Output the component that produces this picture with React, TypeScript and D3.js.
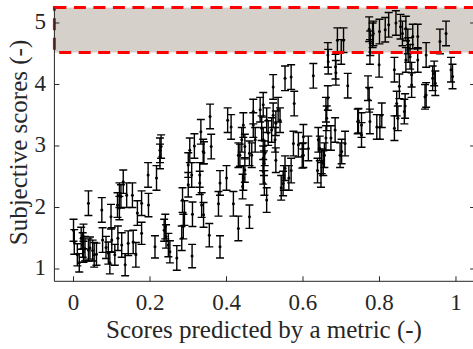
import React from 'react';
import * as d3 from 'd3';

// [predicted, subjective, half error]
const lowCluster: [number, number, number][] = [
  [0.0, 1.63, 0.18], [0.002, 1.44, 0.2], [0.01, 1.23, 0.18], [0.015, 1.1, 0.15], [0.02, 1.5, 0.18],
  [0.024, 1.39, 0.2], [0.026, 1.28, 0.17], [0.026, 1.53, 0.2], [0.03, 1.33, 0.2], [0.039, 2.07, 0.2],
  [0.039, 1.31, 0.18], [0.043, 1.34, 0.18], [0.05, 1.3, 0.17], [0.054, 1.23, 0.2], [0.06, 1.24, 0.18],
  [0.074, 1.96, 0.2], [0.076, 1.47, 0.2], [0.085, 1.35, 0.18], [0.091, 1.26, 0.18], [0.095, 1.1, 0.18],
  [0.098, 1.85, 0.2], [0.1, 1.47, 0.2], [0.108, 1.23, 0.17], [0.115, 2.04, 0.2], [0.116, 1.5, 0.2],
  [0.12, 2.2, 0.2], [0.12, 1.99, 0.19], [0.124, 2.18, 0.19], [0.126, 1.39, 0.2], [0.13, 2.42, 0.19],
  [0.135, 1.07, 0.18], [0.139, 2.2, 0.2], [0.143, 1.42, 0.2], [0.154, 2.2, 0.2], [0.156, 1.44, 0.19],
  [0.163, 1.23, 0.2], [0.167, 1.91, 0.2], [0.178, 1.58, 0.18], [0.178, 2.07, 0.2], [0.196, 2.04, 0.19],
  [0.195, 2.53, 0.2], [0.213, 1.36, 0.18], [0.217, 2.48, 0.2],
];

const lowerBand: [number, number, number][] = [
  [0.237, 1.63, 0.18], [0.24, 1.69, 0.2], [0.242, 1.53, 0.19], [0.248, 1.39, 0.19], [0.252, 1.28, 0.18],
  [0.27, 1.18, 0.2], [0.283, 1.5, 0.2], [0.285, 2.12, 0.2], [0.287, 1.69, 0.2], [0.29, 1.91, 0.2],
  [0.3, 2.37, 0.2], [0.311, 1.89, 0.2], [0.31, 1.21, 0.19], [0.33, 2.4, 0.19], [0.335, 2.04, 0.2],
  [0.34, 1.88, 0.2], [0.355, 1.55, 0.19], [0.379, 2.06, 0.2], [0.383, 1.36, 0.18], [0.383, 2.4, 0.2],
  [0.4, 2.48, 0.2], [0.418, 2.06, 0.2], [0.431, 1.66, 0.2], [0.442, 2.34, 0.2], [0.46, 1.85, 0.19],
  [0.444, 2.48, 0.2], [0.496, 2.58, 0.2], [0.498, 2.72, 0.2], [0.505, 2.12, 0.2], [0.499, 2.4, 0.2],
  [0.529, 2.77, 0.2], [0.543, 2.32, 0.2], [0.548, 2.39, 0.2], [0.553, 2.64, 0.2], [0.55, 2.48, 0.2],
  [0.563, 2.48, 0.2], [0.569, 2.6, 0.2], [0.575, 3.04, 0.2], [0.588, 3.02, 0.2], [0.598, 2.84, 0.2],
  [0.601, 3.15, 0.2], [0.601, 2.85, 0.2], [0.614, 2.96, 0.2], [0.638, 2.6, 0.2], [0.64, 3.1, 0.2],
  [0.644, 2.96, 0.2], [0.647, 2.53, 0.2], [0.649, 2.75, 0.2], [0.653, 2.72, 0.2], [0.656, 2.85, 0.2],
  [0.66, 3.13, 0.2], [0.673, 3.13, 0.2], [0.684, 3.26, 0.2], [0.697, 2.85, 0.2], [0.701, 2.91, 0.2],
  [0.71, 3.04, 0.2], [0.745, 3.41, 0.2], [0.753, 3.34, 0.2], [0.753, 3.18, 0.2], [0.743, 3.4, 0.2],
];

const upperBand: [number, number, number][] = [
  [0.226, 2.83, 0.2], [0.226, 2.93, 0.2], [0.229, 2.99, 0.19], [0.3, 2.69, 0.2], [0.304, 2.93, 0.2],
  [0.309, 2.53, 0.2], [0.316, 3.0, 0.2], [0.33, 2.53, 0.2], [0.333, 3.23, 0.2], [0.339, 2.91, 0.2],
  [0.341, 2.89, 0.18], [0.357, 3.48, 0.2], [0.36, 2.99, 0.2], [0.403, 3.42, 0.2], [0.412, 3.31, 0.2],
  [0.431, 2.85, 0.2], [0.435, 2.85, 0.18], [0.44, 3.1, 0.2], [0.444, 3.34, 0.2], [0.448, 2.61, 0.2],
  [0.448, 2.99, 0.2], [0.466, 2.85, 0.2], [0.46, 2.88, 0.2], [0.47, 3.56, 0.2], [0.47, 3.34, 0.2],
  [0.475, 3.1, 0.2], [0.488, 3.59, 0.2], [0.492, 3.29, 0.2], [0.496, 3.67, 0.2], [0.496, 3.1, 0.2],
  [0.496, 2.8, 0.2], [0.5, 2.88, 0.2], [0.505, 3.42, 0.2], [0.509, 3.21, 0.2], [0.518, 3.26, 0.2],
  [0.522, 3.5, 0.2], [0.527, 3.1, 0.2], [0.529, 3.37, 0.2], [0.535, 3.59, 0.2], [0.54, 3.42, 0.2],
  [0.522, 3.96, 0.2], [0.553, 4.1, 0.2], [0.569, 4.12, 0.2], [0.577, 3.69, 0.2], [0.627, 4.14, 0.2],
];

const topCluster: [number, number, number][] = [
  [0.66, 3.59, 0.2], [0.662, 3.45, 0.2], [0.665, 3.78, 0.2], [0.665, 4.48, 0.2], [0.666, 4.37, 0.2],
  [0.685, 4.29, 0.2], [0.686, 4.19, 0.2], [0.69, 4.72, 0.2], [0.7, 4.53, 0.2], [0.706, 4.72, 0.2],
  [0.717, 3.98, 0.2], [0.77, 3.94, 0.2], [0.773, 3.75, 0.2], [0.775, 3.4, 0.2], [0.773, 4.9, 0.2],
  [0.776, 4.67, 0.2], [0.775, 4.53, 0.2], [0.782, 4.8, 0.2], [0.784, 4.83, 0.2], [0.793, 3.31, 0.2],
  [0.801, 3.31, 0.2], [0.799, 4.32, 0.2], [0.8, 4.86, 0.2], [0.806, 3.5, 0.2], [0.815, 4.89, 0.2],
  [0.824, 4.97, 0.2], [0.839, 3.29, 0.2], [0.839, 4.24, 0.2], [0.843, 5.0, 0.2], [0.848, 3.45, 0.2],
  [0.852, 3.97, 0.2], [0.845, 3.69, 0.2], [0.855, 4.94, 0.2], [0.86, 4.83, 0.2], [0.865, 3.56, 0.2],
  [0.867, 3.65, 0.2], [0.869, 4.91, 0.2], [0.869, 4.4, 0.2], [0.874, 4.7, 0.2], [0.875, 4.56, 0.2],
  [0.88, 4.45, 0.2], [0.884, 4.16, 0.2], [0.884, 3.99, 0.2], [0.887, 4.78, 0.2], [0.9, 4.78, 0.2],
  [0.9, 4.4, 0.2], [0.919, 3.8, 0.2], [0.922, 4.48, 0.2], [0.939, 4.1, 0.2], [0.943, 4.18, 0.2],
  [0.946, 4.02, 0.2], [0.958, 4.7, 0.2], [0.974, 4.83, 0.2], [0.987, 4.24, 0.2], [0.991, 4.13, 0.2],
  [0.922, 3.83, 0.2],
];

const xTicks = [0, 0.2, 0.4, 0.6, 0.8, 1];
const yTicks = [1, 2, 3, 4, 5];
const highlight = [4.52, 5.25];

const W = 473;
const H = 349;
const font = '"Liberation Serif", "Times New Roman", serif';
const axisColor = '#262626';

export default function App() {
  const x = d3.scaleLinear().domain([-0.05, 1.05]).range([54.4, 475.1]);
  const y = d3.scaleLinear().domain([0.8, 5.25]).range([281.3, 7.6]);
  const points = [...lowCluster, ...lowerBand, ...upperBand, ...topCluster];
  const cap = 4;

  return (
    <svg width={W} height={H} style={{ position: 'absolute', left: 0, top: 0, background: '#fff' }}>
      {/* highlighted region */}
      <rect
        x={x(-0.05)}
        y={y(highlight[1])}
        width={x(1.05) - x(-0.05) + 4}
        height={y(highlight[0]) - y(highlight[1])}
        fill="#d5d0ca"
      />

      {/* error bars */}
      <g stroke="#000" strokeWidth={1.4} fill="none">
        {points.map(([px, py, e], i) => {
          const cx = x(px);
          const y0 = y(py - e);
          const y1 = y(py + e);
          return (
            <path
              key={i}
              d={`M${cx},${y0}V${y1}M${cx - cap},${y0}H${cx + cap}M${cx - cap},${y1}H${cx + cap}`}
            />
          );
        })}
      </g>
      <g fill="#000">
        {points.map(([px, py], i) => (
          <circle key={i} cx={x(px)} cy={y(py)} r={1.5} />
        ))}
      </g>

      <rect
        x={x(-0.05)}
        y={y(highlight[1])}
        width={x(1.05) - x(-0.05) + 4}
        height={y(highlight[0]) - y(highlight[1])}
        fill="none"
        stroke="#ff0000"
        strokeWidth={3}
        strokeDasharray="12,7.5"
      />

      {/* axes */}
      <g stroke={axisColor} strokeWidth={1} fill="none">
        <line x1={x(-0.05)} x2={x(-0.05)} y1={y(0.8)} y2={y(5.25)} />
        <line x1={x(-0.05)} x2={x(1.05)} y1={y(0.8)} y2={y(0.8)} />
        {xTicks.map(t => (
          <line key={'xt' + t} x1={x(t)} x2={x(t)} y1={y(0.8)} y2={y(0.8) - 5} />
        ))}
        {yTicks.map(t => (
          <line key={'yt' + t} x1={x(-0.05)} x2={x(-0.05) + 5} y1={y(t)} y2={y(t)} />
        ))}
        {yTicks.map(t => (
          <line key={'yr' + t} x1={x(1.05)} x2={x(1.05) - 5} y1={y(t)} y2={y(t)} />
        ))}
      </g>

      <g fontFamily={font} fontSize={23} fill={axisColor}>
        {xTicks.map(t => (
          <text key={'xl' + t} x={x(t)} y={310} textAnchor="middle">{String(t)}</text>
        ))}
        {yTicks.map(t => (
          <text key={'yl' + t} x={46} y={y(t) + 6.5} textAnchor="end">{String(t)}</text>
        ))}
      </g>

      <text x={264} y={338} textAnchor="middle" fontFamily={font} fontSize={25} fill={axisColor}>
        Scores predicted by a metric (-)
      </text>
      <text
        transform={`translate(27,142.5) rotate(-90)`}
        textAnchor="middle"
        fontFamily={font}
        fontSize={25}
        fill={axisColor}
      >
        Subjective scores (-)
      </text>
    </svg>
  );
}
